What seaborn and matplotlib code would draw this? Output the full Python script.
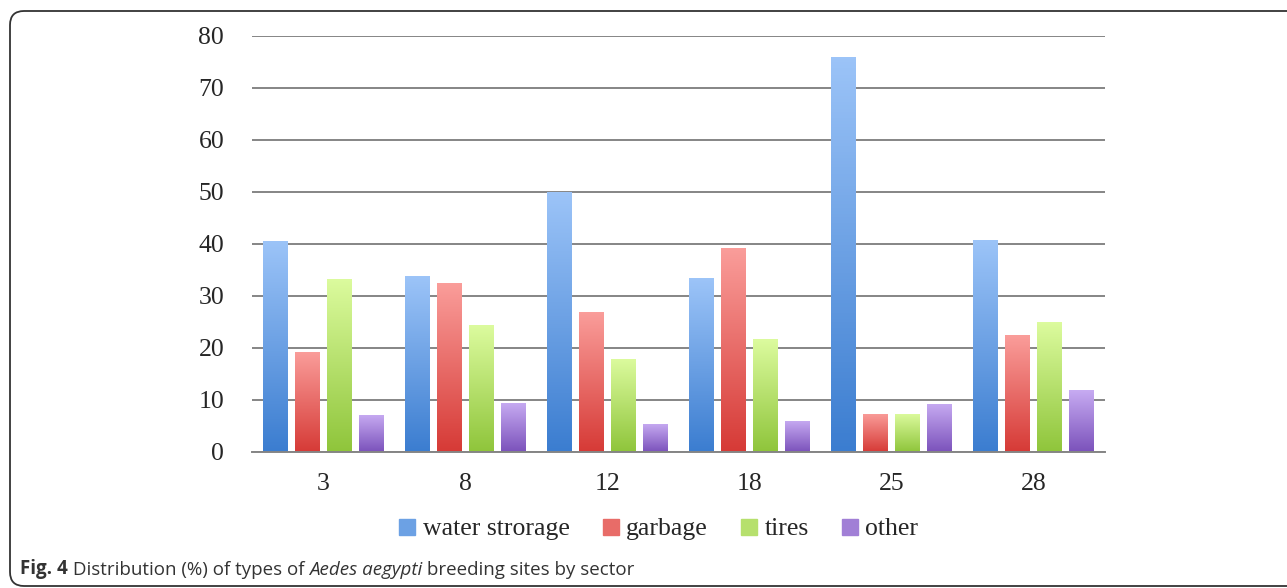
import seaborn as sns
import matplotlib.pyplot as plt
import numpy as np
import pandas as pd
from matplotlib.patches import FancyBboxPatch
from matplotlib.lines import Line2D
from matplotlib.colors import to_rgb

sectors = ["3", "8", "12", "18", "25", "28"]
site_types = ["water strorage", "garbage", "tires", "other"]
water = [40.6, 33.8, 50.0, 33.4, 76.0, 40.8]
garbage = [19.2, 32.5, 26.9, 39.2, 7.4, 22.5]
tires = [33.3, 24.4, 17.9, 21.7, 7.4, 25.0]
other = [7.2, 9.5, 5.4, 6.0, 9.3, 11.9]

# top (light) and bottom (dark) colour of each gradient
light = ["#9cc4f8", "#fa9d9a", "#dcfb9e", "#c7abf2"]
dark = ["#3b7dd0", "#d63a36", "#8fc53b", "#7b52bb"]

rows = []
for t, vals in zip(site_types, [water, garbage, tires, other]):
    for s, v in zip(sectors, vals):
        rows.append({"sector": s, "type": t, "value": v})
df = pd.DataFrame(rows)

sns.set_style("white")
plt.rcParams["font.family"] = ["Liberation Serif", "DejaVu Serif"]

fig = plt.figure(figsize=(12.87, 5.88), dpi=100)

# background layer in pixel coordinates for frame + caption
bg = fig.add_axes([0, 0, 1, 1], zorder=-1)
bg.set_xlim(0, 1287)
bg.set_ylim(588, 0)
bg.axis("off")
bg.add_patch(FancyBboxPatch((10, 11), 1320, 575, boxstyle="round,pad=0,rounding_size=14",
                            fc="white", ec="#333333", lw=1.3))

ax = fig.add_axes([252 / 1287, 1 - 452 / 588, 853 / 1287, 416 / 588])
sns.barplot(data=df, x="sector", y="value", hue="type", order=sectors, hue_order=site_types,
            width=0.9, gap=0.22, palette=dark, ax=ax, legend=False)

ax.set_ylim(0, 80)
ax.set_xlim(-0.5, 5.5)
ax.set_yticks(range(0, 81, 10))
ax.yaxis.grid(True, color="#858585", lw=1.4)
ax.set_axisbelow(True)
ax.set_xlabel("")
ax.set_ylabel("")
for side in ["left", "right", "top"]:
    ax.spines[side].set_visible(False)
ax.spines["bottom"].set_color("#858585")
ax.spines["bottom"].set_linewidth(1.4)
ax.tick_params(axis="y", length=0, pad=20, labelsize=18.5)
ax.tick_params(axis="x", length=0, pad=15, labelsize=18.5)
ax.set_facecolor("none")

# gradient fill for each bar
for i, cont in enumerate(ax.containers):
    c1 = np.array(to_rgb(light[i]))
    c2 = np.array(to_rgb(dark[i]))
    grad = np.linspace(0, 1, 128)[:, None, None]
    img = c1 * (1 - grad) + c2 * grad
    for bar in cont:
        x, w, h = bar.get_x(), bar.get_width(), bar.get_height()
        im = ax.imshow(img, extent=[x, x + w, 0, h], origin="upper", aspect="auto", zorder=2)
        im.set_clip_path(bar)
        bar.set_facecolor("none")
        bar.set_edgecolor("none")
ax.set_ylim(0, 80)
ax.set_xlim(-0.5, 5.5)

mid = [(np.array(to_rgb(a)) + np.array(to_rgb(b))) / 2 for a, b in zip(light, dark)]
handles = [Line2D([], [], marker="s", ls="", markersize=11, color=m) for m in mid]
fig.legend(handles, site_types, loc="center", bbox_to_anchor=(659 / 1287, 1 - 529 / 588),
           ncol=4, frameon=False, fontsize=18.5, handlelength=0.6, handletextpad=0.3,
           columnspacing=1.3)

# caption
cap_font = ["Open Sans", "DejaVu Sans"]
cap_col = "#333333"
t1 = bg.text(20, 574, "Fig. 4", fontsize=13.5, fontweight="bold", family=cap_font,
             color=cap_col, va="baseline")
t2 = bg.annotate(" Distribution (%) of types of ", xy=(1, 0), xycoords=t1, va="bottom",
                 fontsize=13.5, family=cap_font, color=cap_col)
t3 = bg.annotate("Aedes aegypti", xy=(1, 0), xycoords=t2, va="bottom", fontsize=13.5,
                 family=cap_font, style="italic", color=cap_col)
bg.annotate(" breeding sites by sector", xy=(1, 0), xycoords=t3, va="bottom", fontsize=13.5,
            family=cap_font, color=cap_col)

fig.savefig("out.png", dpi=100)
